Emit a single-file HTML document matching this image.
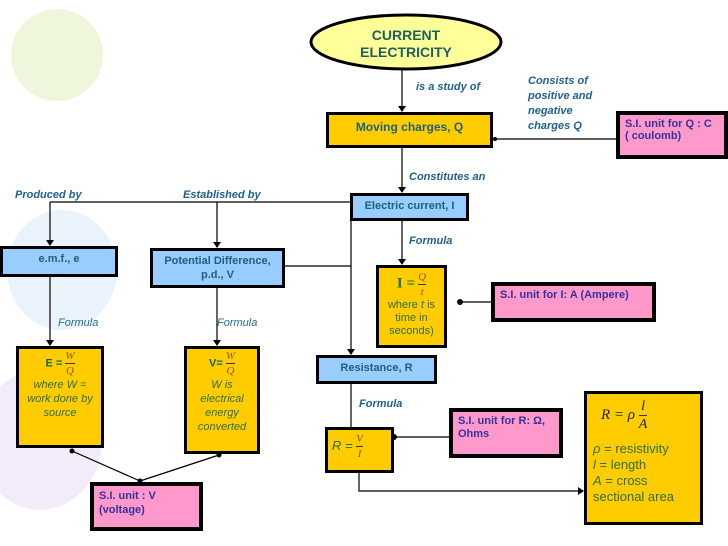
<!DOCTYPE html>
<html><head><meta charset="utf-8"><style>
body{margin:0;width:728px;height:546px;overflow:hidden;background:#fff;position:relative;font-family:"Liberation Sans",sans-serif}
.b{position:absolute;box-sizing:border-box;border:3px solid #000;text-align:center;font-weight:bold;font-size:11px;color:#1f5f7f}
.y{background:#ffcc00}.bl{background:#99ccff}.p{background:#ff99cc;border-width:4px;text-align:left;padding:3px 5px;color:#333399}
.l{position:absolute;font-style:italic;font-weight:bold;font-size:11px;color:#1f5f8f}
.f{position:absolute;font-style:italic;font-size:11px;color:#1f6f8f}
.g{color:#2f6f3f}
svg{position:absolute;left:0;top:0}
.fr{display:inline-block;vertical-align:middle;text-align:center;font-family:"Liberation Serif",serif;font-style:italic;font-weight:normal;color:#8a5a00;font-size:11px;line-height:14px}
.fr span{display:block;border-top:1px solid #333}
</style></head><body>
<svg width="728" height="546">
<ellipse cx="57" cy="55" rx="46" ry="46" fill="#eef7dc"/>
<ellipse cx="62" cy="270" rx="55" ry="60" fill="#eaf3fb"/>
<ellipse cx="40" cy="440" rx="62" ry="70" fill="#f3eafa"/>
<g stroke="#000" stroke-width="1.2" fill="none">
<line x1="402" y1="70" x2="402" y2="110"/>
<line x1="493" y1="139" x2="616" y2="139"/>
<line x1="402" y1="148" x2="402" y2="191"/>
<line x1="50" y1="202" x2="350" y2="202"/>
<line x1="50" y1="202" x2="50" y2="244"/>
<line x1="217" y1="202" x2="217" y2="246"/>
<line x1="285" y1="266" x2="351" y2="266"/>
<line x1="351" y1="221" x2="351" y2="353"/>
<line x1="402" y1="221" x2="402" y2="263"/>
<line x1="50" y1="277" x2="50" y2="344"/>
<line x1="217" y1="288" x2="217" y2="344"/>
<line x1="460" y1="302" x2="491" y2="302"/>
<line x1="351" y1="384" x2="351" y2="427"/>
<line x1="394" y1="437" x2="449" y2="437"/>
<polyline points="359,473 359,491 583,491"/>
<line x1="72" y1="451" x2="140" y2="481"/>
<line x1="219" y1="455" x2="140" y2="481"/>
</g>
<g fill="#000">
<polygon points="398,106 406,106 402,112"/>
<polygon points="398,187 406,187 402,193"/>
<polygon points="46,240 54,240 50,246"/>
<polygon points="213,242 221,242 217,248"/>
<polygon points="398,259 406,259 402,265"/>
<polygon points="347,349 355,349 351,355"/>
<polygon points="46,340 54,340 50,346"/>
<polygon points="213,340 221,340 217,346"/>
<polygon points="578,487 578,495 584,491"/>
<circle cx="460" cy="302" r="3"/><circle cx="394" cy="437" r="3"/>
<circle cx="72" cy="451" r="2.5"/><circle cx="219" cy="455" r="2.5"/><circle cx="140" cy="481" r="2.5"/>
<circle cx="495" cy="139" r="2"/>
</g>
<ellipse cx="406" cy="42" rx="95" ry="27" fill="#ffff99" stroke="#000" stroke-width="3"/>
</svg>
<div style="position:absolute;left:330px;top:27px;width:152px;text-align:center;font-weight:bold;font-size:14px;line-height:17px;color:#1f5f5f">CURRENT<br>ELECTRICITY</div>
<div class="l" style="left:416px;top:81px">is a study of</div>
<div class="l" style="left:528px;top:74px;line-height:15px">Consists of<br>positive and<br>negative<br>charges Q</div>
<div class="b y" style="left:326px;top:112px;width:167px;height:36px;padding-top:5px;font-size:12px">Moving charges, Q</div>
<div class="b p" style="left:616px;top:111px;width:112px;height:48px;font-size:11px">S.I. unit for Q : C<br>( coulomb)</div>
<div class="l" style="left:409px;top:171px">Constitutes an</div>
<div class="l" style="left:15px;top:189px">Produced by</div>
<div class="l" style="left:183px;top:189px">Established by</div>
<div class="b bl" style="left:350px;top:193px;width:119px;height:28px;padding-top:4px">Electric current, I</div>
<div class="b bl" style="left:0;top:246px;width:118px;height:31px;padding-top:4px">e.m.f., e</div>
<div class="b bl" style="left:150px;top:248px;width:135px;height:40px;padding-top:3px;line-height:14px">Potential Difference,<br>p.d., V</div>
<div class="l" style="left:409px;top:235px">Formula</div>
<div class="f" style="left:58px;top:317px">Formula</div>
<div class="f" style="left:217px;top:317px">Formula</div>
<div class="b y" style="left:376px;top:265px;width:71px;height:83px;font-weight:normal;color:#2f6f3f;line-height:13px;padding-top:2px"><b style="font-family:'Liberation Serif',serif;font-size:15px;color:#1f6f3f">I =</b> <span class="fr">Q<span>t</span></span><br>where <i>t</i> is<br>time in<br>seconds)</div>
<div class="b p" style="left:491px;top:282px;width:165px;height:40px">S.I. unit for I: A (Ampere)</div>
<div class="b y" style="left:16px;top:346px;width:88px;height:102px;font-weight:normal;font-style:italic;color:#2f6f3f;line-height:14px"><b style="font-style:normal;color:#1f5f5f">E =</b> <span class="fr">W<span>Q</span></span><br>where W =<br>work done by<br>source</div>
<div class="b y" style="left:184px;top:346px;width:76px;height:108px;font-weight:normal;font-style:italic;color:#2f6f3f;line-height:14px"><b style="font-style:normal;color:#1f5f5f">V=</b> <span class="fr">W<span>Q</span></span><br>W is<br>electrical<br>energy<br>converted</div>
<div class="b bl" style="left:316px;top:355px;width:121px;height:29px;padding-top:4px">Resistance, R</div>
<div class="l" style="left:359px;top:398px">Formula</div>
<div class="b y" style="left:325px;top:427px;width:69px;height:46px;text-align:left;padding:2px 4px;font-weight:normal;font-style:italic;color:#2f6f3f;font-size:13px">R = <span class="fr">V<span>I</span></span></div>
<div class="b p" style="left:449px;top:408px;width:114px;height:50px;line-height:13px">S.I. unit for R: Ω,<br>Ohms</div>
<div class="b y" style="left:584px;top:391px;width:119px;height:134px;text-align:left;padding:4px 6px;font-weight:normal;color:#2f6f3f;font-size:13px;line-height:16px">
<div style="font-family:'Liberation Serif',serif;font-style:italic;color:#222;font-size:15px;padding-left:8px;margin-bottom:8px">R = ρ <span class="fr" style="color:#222;font-size:14px;line-height:17px">l<span>A</span></span></div>
<i>ρ</i> = resistivity<br><i>l</i> = length<br><i>A</i> = cross<br>sectional area</div>
<div class="b p" style="left:90px;top:482px;width:113px;height:49px;line-height:14px">S.I. unit : V<br>(voltage)</div>
</body></html>
